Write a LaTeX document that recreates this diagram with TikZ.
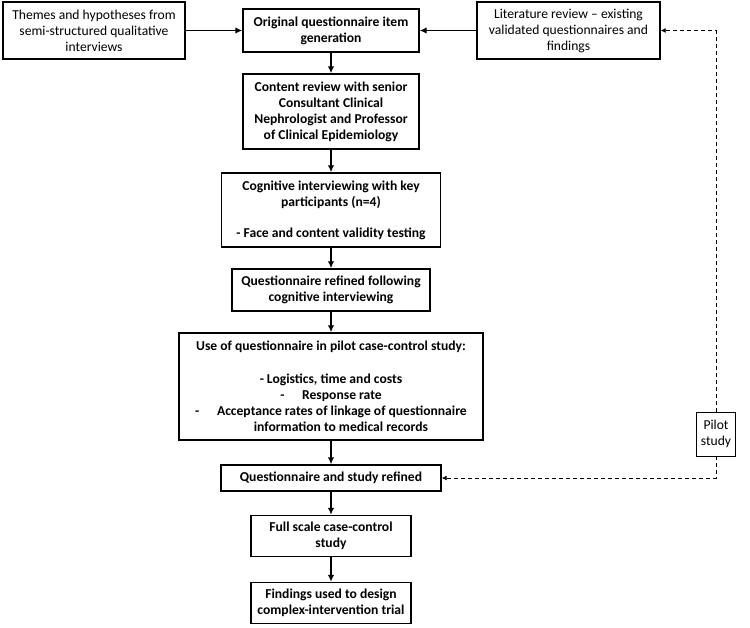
\documentclass[tikz,border=0pt]{standalone}
\usepackage{fontspec}
\setmainfont{Carlito}
\usetikzlibrary{positioning,arrows.meta}
\tikzset{
  box/.style={draw, line width=1.4pt, inner sep=0pt, align=center, font=\fontsize{13.6}{16}\selectfont},
  bbox/.style={box, font=\fontsize{13.6}{16}\selectfont\bfseries},
  arr/.style={-{Latex[length=7pt,width=6.5pt]}, line width=1.4pt},
  dasharr/.style={-{Latex[length=5pt,width=5pt]}, dashed, line width=0.9pt, dash pattern=on 4pt off 3pt}
}
\begin{document}
\begin{tikzpicture}[x=1pt,y=-1pt]
        \useasboundingbox (0,0) rectangle (750,627);
        % top row
        \node[box,minimum width=182,minimum height=57](theme)at(94,30.5){Themes and hypotheses from\\semi-structured qualitative\\interviews};
        \node[bbox,minimum width=176,minimum height=43](orig)at(331,30.5){Original questionnaire item\\generation};
        \node[box,minimum width=183,minimum height=57](lit)at(568.5,30.5){Literature review -- existing\\validated questionnaires and\\findings};
        % main column
        \node[bbox,minimum width=176,minimum height=75](content)at(331,111.5){Content review with senior\\Consultant Clinical\\Nephrologist and Professor\\of Clinical Epidemiology};
        \node[bbox,minimum width=219,minimum height=74](cog)at(331,210){Cognitive interviewing with key\\participants (n=4)\\[15pt]- Face and content validity testing};
        \node[bbox,minimum width=198,minimum height=42](qref)at(331,290){Questionnaire refined following\\cognitive interviewing};
        \node[bbox,minimum width=304,minimum height=107](use)at(331,386.5){Use of questionnaire in pilot case-control study:\\[17pt]- Logistics, time and costs\\-\hspace*{1.3em}Response rate\\-\hspace*{1.3em}Acceptance rates of linkage of questionnaire\\\hspace*{20pt}information to medical records};
        \node[bbox,minimum width=220,minimum height=26](qs)at(331,478){Questionnaire and study refined};
        \node[bbox,minimum width=160,minimum height=41](full)at(331,536){Full scale case-control\\study};
        \node[bbox,minimum width=160,minimum height=41](find)at(331,603){Findings used to design\\complex-intervention trial};
        % pilot loop
        \node[box,line width=0.7pt,minimum width=39,minimum height=44,fill=white](pilot)at(716,434){Pilot\\study};
        \draw[arr](theme.east)--(orig.west);
        \draw[arr](lit.west)--(orig.east);
        \draw[arr](orig)--(content);
        \draw[arr](content)--(cog);
        \draw[arr](cog)--(qref);
        \draw[arr](qref)--(use);
        \draw[arr](use)--(qs);
        \draw[arr](qs)--(full);
        \draw[arr](full)--(find);
        \draw[dasharr](pilot.north)|-(lit.east);
        \draw[dasharr](pilot.south)|-(qs.east);
    \end{tikzpicture}
\end{document}
